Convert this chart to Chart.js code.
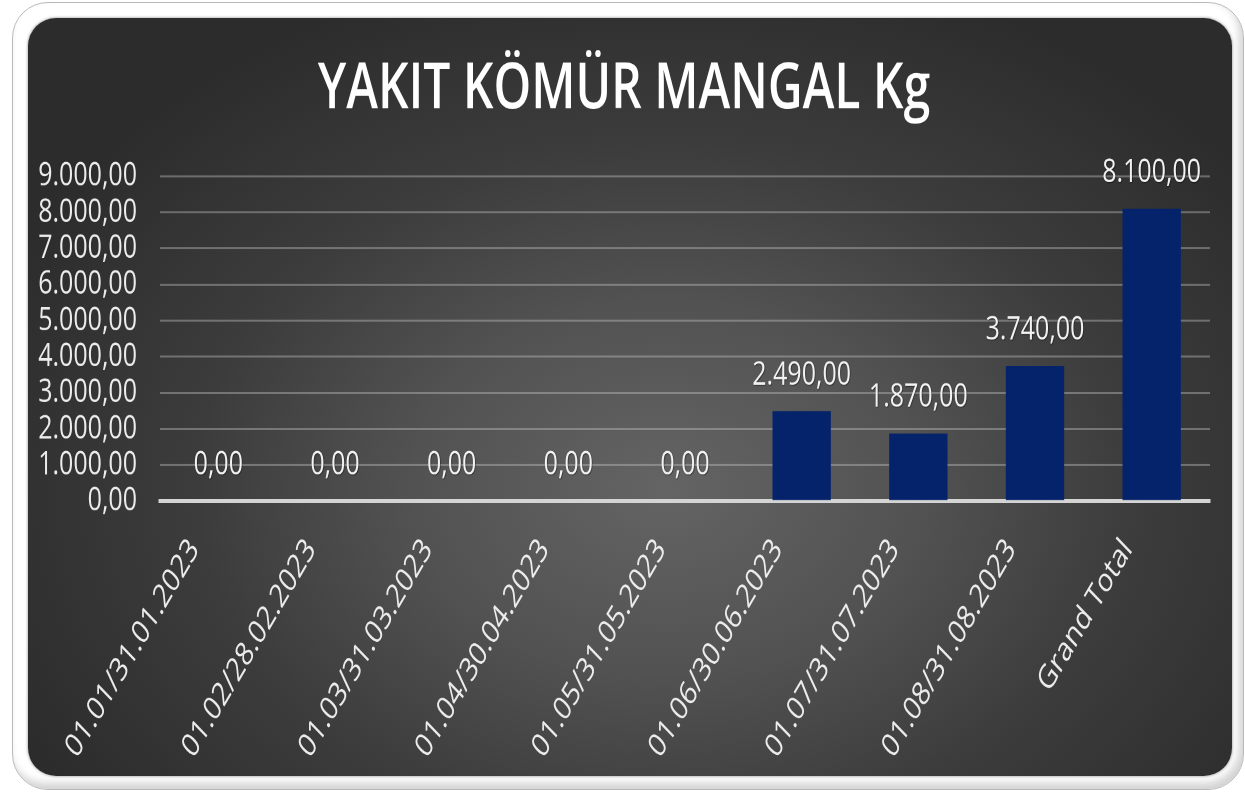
<!DOCTYPE html>
<html>
<head>
<meta charset="utf-8">
<script src="https://cdn.jsdelivr.net/npm/chart.js@4/dist/chart.umd.min.js"></script>
<style>
  html, body { margin: 0; padding: 0; background: #fff; }
  body { width: 1245px; height: 792px; position: relative; overflow: hidden; }
  .frame {
    position: absolute; left: 12px; top: 2px; width: 1230px; height: 786px;
    border: 1px solid #b9b9b9; border-radius: 36px; background: #fff;
    box-shadow: inset -4px -6px 8px rgba(0,0,0,0.18), inset 3px 3px 4px rgba(255,255,255,0.9);
  }
  .panel {
    position: absolute; left: 28px; top: 18px; width: 1204px; height: 758px;
    border-radius: 28px;
    background: radial-gradient(ellipse 60% 70% at 53% 62%, #646464 0%, #525252 35%, #3c3c3c 65%, #2c2c2c 100%);
    box-shadow: 0 0 3px rgba(0,0,0,0.5);
  }
  /* chart is laid out at 596px tall and stretched to the full 792px like the source */
  .wrap {
    position: absolute; left: 0; top: 0; width: 1245px; height: 596px;
    transform: scaleY(1.3289); transform-origin: 0 0;
  }
</style>
</head>
<body>
<div class="frame"></div>
<div class="panel"></div>
<div class="wrap"><canvas id="komurChart"></canvas></div>
<script>
var categories = [
    '01.01/31.01.2023',
    '01.02/28.02.2023',
    '01.03/31.03.2023',
    '01.04/30.04.2023',
    '01.05/31.05.2023',
    '01.06/30.06.2023',
    '01.07/31.07.2023',
    '01.08/31.08.2023',
    'Grand Total'
];
var values = [0, 0, 0, 0, 0, 2490, 1870, 3740, 8100];
var yMin = 0, yMax = 9000, yStep = 1000;

// turkish number format: 9.000,00
function fmt(v) {
    var parts = Number(v).toFixed(2).split('.');
    return parts[0].replace(/\B(?=(\d{3})+(?!\d))/g, '.') + ',' + parts[1];
}

var FONT = '"Open Sans", "Noto Sans", sans-serif';

// value labels above the bars
var valueLabels = {
    id: 'valueLabels',
    afterDatasetsDraw: function(chart) {
        var ctx = chart.ctx;
        var meta = chart.getDatasetMeta(0);
        ctx.save();
        ctx.font = '25px ' + FONT;
        ctx.fillStyle = '#f2f2f2';
        ctx.textAlign = 'center';
        ctx.textBaseline = 'alphabetic';
        ctx.shadowColor = 'rgba(0,0,0,0.6)';
        ctx.shadowBlur = 2;
        ctx.shadowOffsetX = 1;
        ctx.shadowOffsetY = 1;
        meta.data.forEach(function(bar, i) {
            ctx.fillText(fmt(chart.data.datasets[0].data[i]), bar.x, bar.y - 20);
        });
        ctx.restore();
    }
};

var ctxBar = document.getElementById('komurChart');

var myBarChart = new Chart(ctxBar, {
    type: 'bar',
    data: {
        labels: categories,
        datasets: [{
            label: 'YAKIT KÖMÜR MANGAL Kg',
            data: values,
            backgroundColor: '#05236a',
            barPercentage: 0.5,
            categoryPercentage: 1.0
        }]
    },
    plugins: [valueLabels],
    options: {
        responsive: true,
        maintainAspectRatio: false,
        devicePixelRatio: 2,
        animation: false,
        layout: {
            padding: { left: 38, right: 35, top: 20, bottom: 23 }
        },
        plugins: {
            legend: { display: false },
            tooltip: { enabled: false },
            title: {
                display: true,
                text: 'YAKIT KÖMÜR MANGAL Kg',
                color: '#ffffff',
                font: { family: FONT, size: 48, weight: '600' },
                padding: { top: 19, bottom: 36 }
            }
        },
        scales: {
            x: {
                grid: { display: false, drawTicks: false },
                border: { display: true, color: '#d4d4d4', width: 3 },
                ticks: {
                    color: '#ececec',
                    font: { family: FONT, size: 25 },
                    minRotation: 52,
                    maxRotation: 52,
                    padding: 23,
                    labelOffset: -24,
                    autoSkip: false
                },
                afterFit: function(scale) { scale.height = 196; }
            },
            y: {
                min: yMin,
                max: yMax,
                grid: { color: 'rgba(200,200,200,0.4)', lineWidth: 1.5, drawTicks: false },
                border: { display: false },
                ticks: {
                    stepSize: yStep,
                    autoSkip: false,
                    color: '#ececec',
                    font: { family: FONT, size: 25 },
                    padding: 23,
                    callback: function(v) { return fmt(v); }
                },
                afterFit: function(scale) { scale.width = 122; }
            }
        }
    }
});
</script>
</body>
</html>
